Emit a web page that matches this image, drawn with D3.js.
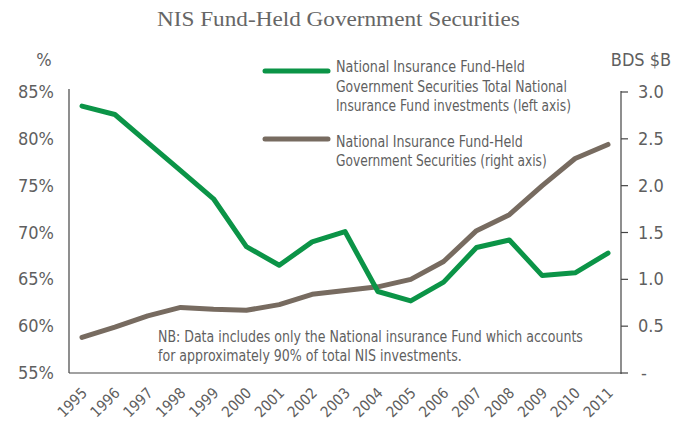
<!DOCTYPE html>
<html>
<head>
<meta charset="utf-8">
<script src="https://cdn.jsdelivr.net/npm/d3@7"></script>
<style>
  body { margin: 0; background: #fff; }
  svg text { fill: #5f5f5f; }
  .cond { font-family: "DejaVu Sans Condensed", "Liberation Sans Narrow", "Roboto", sans-serif; }
</style>
</head>
<body>
<div id="chart"></div>
<script>
var years = [1995, 1996, 1997, 1998, 1999, 2000, 2001, 2002, 2003, 2004, 2005, 2006, 2007, 2008, 2009, 2010, 2011];
// share of total NIF investments, %
var sharePct = [83.5, 82.6, 79.6, 76.6, 73.6, 68.5, 66.5, 69.0, 70.1, 63.7, 62.7, 64.7, 68.4, 69.2, 65.4, 65.7, 67.8];
// BDS $ billions
var heldBn = [0.38, 0.49, 0.61, 0.70, 0.68, 0.67, 0.73, 0.84, 0.88, 0.92, 1.00, 1.19, 1.52, 1.69, 2.00, 2.29, 2.44];
var leftTicks = [55, 60, 65, 70, 75, 80, 85];
var rightTicks = [0, 0.5, 1.0, 1.5, 2.0, 2.5, 3.0];
var legendGreen = ["National Insurance Fund-Held", "Government Securities Total National", "Insurance Fund investments (left axis)"];
var legendBrown = ["National Insurance Fund-Held", "Government Securities (right axis)"];
var noteLines = ["NB: Data includes only the National insurance Fund which accounts", "for approximately 90% of total NIS investments."];

var W = 688, H = 423;
var green = "#0b9447", brown = "#776b60", axisCol = "#444";

var svg = d3.select("#chart").append("svg")
    .attr("width", W)
    .attr("height", H);

var x = d3.scalePoint().domain(years).range([82, 608]);
var yL = d3.scaleLinear().domain([55, 85]).range([373, 92]);
var yR = d3.scaleLinear().domain([0, 3]).range([373, 92]);

// squeeze a text horizontally to a given width (reference face is condensed)
function fit(sel, w) {
    sel.each(function(d, i) {
        var t = d3.select(this);
        var tx = +t.attr("x"), ty = +t.attr("y");
        var target = typeof w == "function" ? w(d, i) : w;
        var n = this.getComputedTextLength();
        t.attr("x", 0).attr("y", 0)
            .attr("transform", "translate(" + tx + "," + ty + ") scale(" + (target / n) + ",1)");
    });
}

// title
svg.append("text")
    .attr("x", 157).attr("y", 26)
    .style("font-family", "'Liberation Serif', 'DejaVu Serif', serif")
    .style("font-size", "21px")
    .style("fill", "#666")
    .text("NIS Fund-Held Government Securities")
    .call(fit, 363);

// axis units
svg.append("text").attr("class", "cond")
    .attr("x", 44).attr("y", 66).attr("text-anchor", "middle")
    .style("font-size", "18px").text("%");
svg.append("text").attr("class", "cond")
    .attr("x", 641).attr("y", 66).attr("text-anchor", "middle")
    .style("font-size", "18px").text("BDS $B");

// frame lines
svg.append("line")
    .attr("x1", 69).attr("x2", 69).attr("y1", 89).attr("y2", 373)
    .attr("stroke", axisCol).attr("stroke-width", 1.2);
svg.append("line")
    .attr("x1", 69).attr("x2", 621).attr("y1", 373).attr("y2", 373)
    .attr("stroke", axisCol).attr("stroke-width", 1.2);
svg.append("line")
    .attr("x1", 621).attr("x2", 621).attr("y1", 91).attr("y2", 374)
    .attr("stroke", axisCol).attr("stroke-width", 1.2);

// left labels
svg.append("g").selectAll("text")
    .data(leftTicks)
    .enter().append("text")
    .attr("class", "cond")
    .attr("x", 54)
    .attr("y", function(d) { return yL(d) + 6; })
    .attr("text-anchor", "end")
    .style("font-size", "18px")
    .text(function(d) { return d + "%"; });

// right ticks + labels
var rg = svg.append("g");
rg.selectAll("line")
    .data(rightTicks)
    .enter().append("line")
    .attr("x1", 621).attr("x2", 628)
    .attr("y1", function(d) { return yR(d); })
    .attr("y2", function(d) { return yR(d); })
    .attr("stroke", axisCol).attr("stroke-width", 1.2);
rg.selectAll("text")
    .data(rightTicks)
    .enter().append("text")
    .attr("class", "cond")
    .attr("x", function(d) { return d == 0 ? 641 : 638; })
    .attr("y", function(d) { return yR(d) + 6; })
    .style("font-size", "18px")
    .text(function(d) { return d == 0 ? "-" : d3.format(".1f")(d); });

// year labels
svg.append("g").selectAll("text")
    .data(years)
    .enter().append("text")
    .attr("class", "cond")
    .attr("text-anchor", "end")
    .attr("transform", function(d) { return "translate(" + (x(d) + 6) + ",394) rotate(-45)"; })
    .style("font-size", "15px")
    .text(function(d) { return d; });

// lines
var lineL = d3.line()
    .x(function(d, i) { return x(years[i]); })
    .y(function(d) { return yL(d); });
var lineR = d3.line()
    .x(function(d, i) { return x(years[i]); })
    .y(function(d) { return yR(d); });

svg.append("path")
    .datum(heldBn)
    .attr("d", lineR)
    .attr("fill", "none")
    .attr("stroke", brown)
    .attr("stroke-width", 5)
    .attr("stroke-linejoin", "round")
    .attr("stroke-linecap", "round");

svg.append("path")
    .datum(sharePct)
    .attr("d", lineL)
    .attr("fill", "none")
    .attr("stroke", green)
    .attr("stroke-width", 5)
    .attr("stroke-linejoin", "round")
    .attr("stroke-linecap", "round");

// legend
function legendItem(lines, widths, col, ySw, yTxt, gap) {
    svg.append("line")
        .attr("x1", 265).attr("x2", 328)
        .attr("y1", ySw).attr("y2", ySw)
        .attr("stroke", col).attr("stroke-width", 5)
        .attr("stroke-linecap", "round");
    svg.append("g").selectAll("text")
        .data(lines)
        .enter().append("text")
        .attr("class", "cond")
        .attr("x", 336)
        .attr("y", function(d, i) { return yTxt + i * gap; })
        .style("font-size", "16px")
        .text(function(d) { return d; })
        .call(fit, function(d, i) { return widths[i]; });
}
legendItem(legendGreen, [189, 231, 235], green, 71, 72, 19.5);
legendItem(legendBrown, [187, 211], brown, 139, 147, 18.5);

// note
svg.append("g").selectAll("text")
    .data(noteLines)
    .enter().append("text")
    .attr("class", "cond")
    .attr("x", 158)
    .attr("y", function(d, i) { return 342 + i * 19; })
    .style("font-size", "16px")
    .text(function(d) { return d; })
    .call(fit, function(d, i) { return [425, 304][i]; });
</script>
</body>
</html>
